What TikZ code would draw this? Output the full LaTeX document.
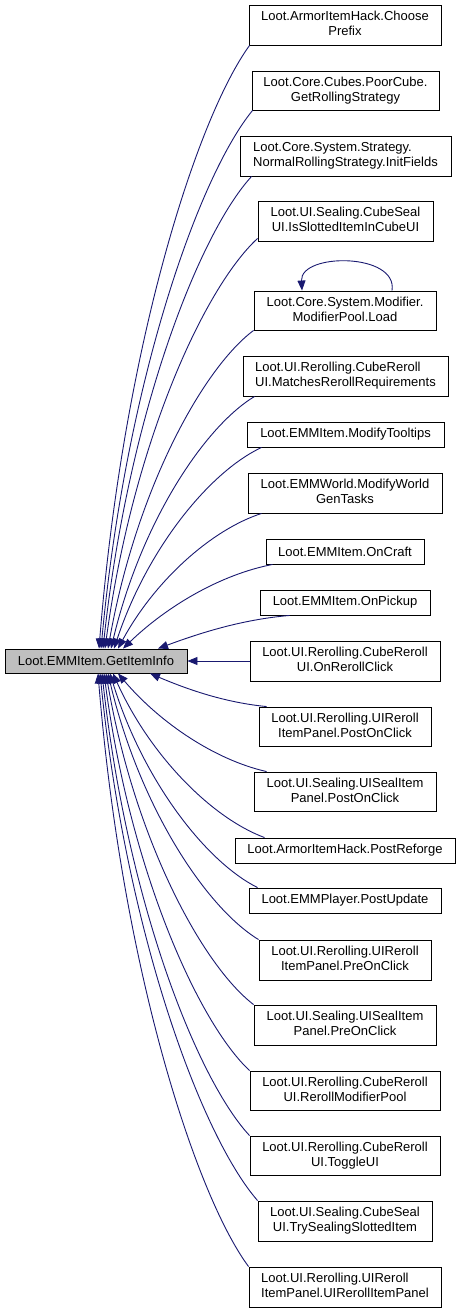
\documentclass[tikz,border=0pt]{standalone}
\usepackage{fontspec}
\setmainfont{Liberation Sans}
\usetikzlibrary{arrows.meta,calc}
\definecolor{edgeblue}{RGB}{25,25,112}
\definecolor{mainfill}{RGB}{191,191,191}
\newcommand\mylines[2]{\begin{tabular}{@{}l@{}}#1\\\multicolumn{1}{@{}c@{}}{#2}\end{tabular}}
\newcommand\calledge[2]{\draw[edge] let \p1=(#1), \p2=(#2), \n1={abs(\x1-\x2)}, \n2={abs(\y1-\y2)}, \n3={0.1+0.3*\n1/(\n1+\n2)} in (\p1) .. controls ({\x1-0.35*(\x1-\x2)},{\y1-0.12*(\y1-\y2)}) and ({\x2+\n3*(\x1-\x2)},{\y2+0.5*(\y1-\y2)}) .. (\p2);}
\begin{document}
\begin{tikzpicture}[x=1pt,y=-1pt,
  fn/.style={draw=black,line width=0.9pt,inner sep=0pt,font=\fontsize{13}{15}\selectfont},
  edge/.style={draw=edgeblue,line width=0.9pt,-{Triangle[length=10pt,width=8pt]}}]
\useasboundingbox (0,0) rectangle (461,1312);
\node[fn,fill=mainfill,minimum width=182pt,minimum height=24pt] (main) at (96,661) {Loot.EMMItem.GetItemInfo};
\node[fn,minimum width=192pt,minimum height=40pt] (n1) at (345,25) {\mylines{Loot.ArmorItemHack.Choose}{Prefix}};
\node[fn,minimum width=187pt,minimum height=39pt] (n2) at (345.5,90.5) {\mylines{Loot.Core.Cubes.PoorCube.}{GetRollingStrategy}};
\node[fn,minimum width=211pt,minimum height=40pt] (n3) at (345.5,156) {\mylines{Loot.Core.System.Strategy.}{NormalRollingStrategy.InitFields}};
\node[fn,minimum width=175pt,minimum height=40pt] (n4) at (345.5,221) {\mylines{Loot.UI.Sealing.CubeSeal}{UI.IsSlottedItemInCubeUI}};
\node[fn,minimum width=182pt,minimum height=39pt] (n5) at (345,310.5) {\mylines{Loot.Core.System.Modifier.}{ModifierPool.Load}};
\node[fn,minimum width=205pt,minimum height=40pt] (n6) at (345.5,376) {\mylines{Loot.UI.Rerolling.CubeReroll}{UI.MatchesRerollRequirements}};
\node[fn,minimum width=197pt,minimum height=25pt] (n7) at (345.5,434.5) {Loot.EMMItem.ModifyTooltips};
\node[fn,minimum width=194pt,minimum height=40pt] (n8) at (345,493) {\mylines{Loot.EMMWorld.ModifyWorld}{GenTasks}};
\node[fn,minimum width=158pt,minimum height=25pt] (n9) at (345,551.5) {Loot.EMMItem.OnCraft};
\node[fn,minimum width=170pt,minimum height=25pt] (n10) at (345,602.5) {Loot.EMMItem.OnPickup};
\node[fn,minimum width=190pt,minimum height=40pt] (n11) at (345,661) {\mylines{Loot.UI.Rerolling.CubeReroll}{UI.OnRerollClick}};
\node[fn,minimum width=172pt,minimum height=39pt] (n12) at (345,726.5) {\mylines{Loot.UI.Rerolling.UIReroll}{ItemPanel.PostOnClick}};
\node[fn,minimum width=182pt,minimum height=39pt] (n13) at (345,791.5) {\mylines{Loot.UI.Sealing.UISealItem}{Panel.PostOnClick}};
\node[fn,minimum width=220pt,minimum height=25pt] (n14) at (345,850.5) {Loot.ArmorItemHack.PostReforge};
\node[fn,minimum width=192pt,minimum height=25pt] (n15) at (345,900.5) {Loot.EMMPlayer.PostUpdate};
\node[fn,minimum width=172pt,minimum height=40pt] (n16) at (345,960) {\mylines{Loot.UI.Rerolling.UIReroll}{ItemPanel.PreOnClick}};
\node[fn,minimum width=182pt,minimum height=40pt] (n17) at (345,1025) {\mylines{Loot.UI.Sealing.UISealItem}{Panel.PreOnClick}};
\node[fn,minimum width=190pt,minimum height=39pt] (n18) at (345,1090.5) {\mylines{Loot.UI.Rerolling.CubeReroll}{UI.RerollModifierPool}};
\node[fn,minimum width=190pt,minimum height=39pt] (n19) at (345,1155.5) {\mylines{Loot.UI.Rerolling.CubeReroll}{UI.ToggleUI}};
\node[fn,minimum width=174pt,minimum height=40pt] (n20) at (345,1221) {\mylines{Loot.UI.Sealing.CubeSeal}{UI.TrySealingSlottedItem}};
\node[fn,minimum width=192pt,minimum height=40pt] (n21) at (345,1287) {\mylines{Loot.UI.Rerolling.UIReroll}{ItemPanel.UIRerollItemPanel}};
% upper callers
\calledge{[xshift=1pt]n1.south west}{[xshift=3pt]main.north}
\calledge{[xshift=1pt]n2.south west}{[xshift=5pt]main.north}
\calledge{[xshift=12pt]n3.south west}{[xshift=7pt]main.north}
\calledge{[yshift=3pt]n4.south west}{[xshift=9pt]main.north}
\calledge{n5.south west}{[xshift=12pt]main.north}
\calledge{[xshift=12pt]n6.south west}{[xshift=15pt]main.north}
\calledge{[xshift=15pt]n7.south west}{[xshift=18pt]main.north}
\calledge{[xshift=14pt]n8.south west}{[xshift=22pt]main.north}
\calledge{[xshift=7pt]n9.south west}{[xshift=27pt]main.north}
\calledge{[xshift=30pt]n10.south west}{[xshift=62pt]main.north}
\draw[edge] (n11.west) -- (main.east);
% lower callers
\calledge{[xshift=8pt]n12.north west}{[xshift=54pt]main.south}
\calledge{[xshift=13pt]n13.north west}{[xshift=22pt]main.south}
\calledge{[xshift=30pt]n14.north west}{[xshift=17pt]main.south}
\calledge{[xshift=9pt]n15.north west}{[xshift=14pt]main.south}
\calledge{n16.north west}{[xshift=12pt]main.south}
\calledge{n17.north west}{[xshift=10pt]main.south}
\calledge{n18.north west}{[xshift=8pt]main.south}
\calledge{n19.north west}{[xshift=6pt]main.south}
\calledge{n20.north west}{[xshift=4pt]main.south}
\calledge{n21.north west}{[xshift=2pt]main.south}
% self loop
\draw[edge] ([xshift=47pt]n5.north) .. controls +(6,-38) and +(-2,-38) .. ([xshift=-43pt]n5.north);
\end{tikzpicture}
\end{document}
